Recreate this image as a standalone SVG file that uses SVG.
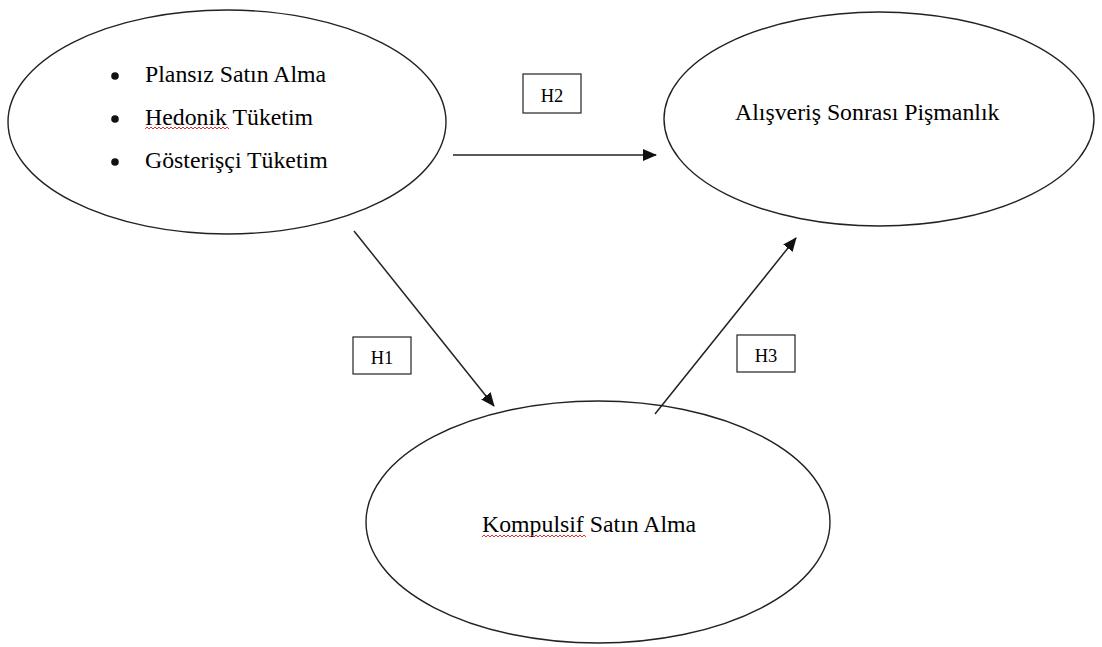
<svg xmlns="http://www.w3.org/2000/svg" width="1102" height="647" viewBox="0 0 1102 647">
  <style>
    .node { fill: #ffffff; stroke: #222222; stroke-width: 1.4; }
    .lbl { font-family: "Liberation Serif", "Times New Roman", serif; font-size: 23.8px; fill: #000000; }
    .hbox { fill: #ffffff; stroke: #222222; stroke-width: 1.2; }
    .htxt { font-family: "Liberation Serif", "Times New Roman", serif; font-size: 18.5px; fill: #000000; text-anchor: middle; }
    .edge { stroke: #222222; stroke-width: 1.5; fill: none; marker-end: url(#arrow); }
    .squiggle { stroke: #e0302a; stroke-width: 1; fill: none; }
  </style>
  <defs>
    <marker id="arrow" markerUnits="userSpaceOnUse" markerWidth="14" markerHeight="12" refX="13" refY="6" orient="auto">
      <path d="M0,0 L14,6 L0,12 Z" fill="#111111"/>
    </marker>
  </defs>

  <rect width="1102" height="647" fill="#ffffff"/>

  <!-- Antecedents -->
  <g id="node-antecedents">
    <ellipse class="node" cx="227" cy="122" rx="219" ry="112"/>
    <circle cx="115" cy="76" r="3.8" fill="#111111"/>
    <circle cx="115" cy="119" r="3.8" fill="#111111"/>
    <circle cx="115" cy="162" r="3.8" fill="#111111"/>
    <text class="lbl" x="145" y="82">Plansız Satın Alma</text>
    <text class="lbl" x="145" y="125">Hedonik Tüketim</text>
    <path class="squiggle" d="M145,129 l2,-2 l2,2 l2,-2 l2,2 l2,-2 l2,2 l2,-2 l2,2 l2,-2 l2,2 l2,-2 l2,2 l2,-2 l2,2 l2,-2 l2,2 l2,-2 l2,2 l2,-2 l2,2 l2,-2 l2,2 l2,-2 l2,2 l2,-2 l2,2 l2,-2 l2,2 l2,-2 l2,2 l2,-2 l2,2 l2,-2 l2,2 l2,-2 l2,2 l2,-2 l2,2 l2,-2 l2,2 l2,-2 l2,2"/>
    <text class="lbl" x="145" y="168">Gösterişçi Tüketim</text>
  </g>

  <!-- Post-purchase regret -->
  <g id="node-regret">
    <ellipse class="node" cx="879" cy="119" rx="215" ry="107"/>
    <text class="lbl" x="735" y="120">Alışveriş Sonrası Pişmanlık</text>
  </g>

  <!-- Compulsive buying -->
  <g id="node-compulsive">
    <ellipse class="node" cx="598" cy="522" rx="232" ry="121"/>
    <text class="lbl" x="482" y="532">Kompulsif Satın Alma</text>
    <path class="squiggle" d="M482,537 l2,-2 l2,2 l2,-2 l2,2 l2,-2 l2,2 l2,-2 l2,2 l2,-2 l2,2 l2,-2 l2,2 l2,-2 l2,2 l2,-2 l2,2 l2,-2 l2,2 l2,-2 l2,2 l2,-2 l2,2 l2,-2 l2,2 l2,-2 l2,2 l2,-2 l2,2 l2,-2 l2,2 l2,-2 l2,2 l2,-2 l2,2 l2,-2 l2,2 l2,-2 l2,2 l2,-2 l2,2 l2,-2 l2,2 l2,-2 l2,2 l2,-2 l2,2 l2,-2 l2,2 l2,-2 l2,2 l2,-2 l2,2"/>
  </g>

  <!-- Hypothesis paths -->
  <g id="connectors">
    <line class="edge" x1="453" y1="155" x2="656" y2="155"/>
    <line class="edge" x1="354" y1="231" x2="494" y2="406"/>
    <line class="edge" x1="655" y1="414" x2="796" y2="238"/>
  </g>

  <!-- Hypothesis labels -->
  <g id="label-h1">
    <rect class="hbox" x="353" y="337" width="58" height="37"/>
    <text class="htxt" x="382" y="364">H1</text>
  </g>
  <g id="label-h2">
    <rect class="hbox" x="523" y="74" width="58" height="39"/>
    <text class="htxt" x="552" y="102">H2</text>
  </g>
  <g id="label-h3">
    <rect class="hbox" x="737" y="335" width="58" height="37"/>
    <text class="htxt" x="766" y="362">H3</text>
  </g>
</svg>
